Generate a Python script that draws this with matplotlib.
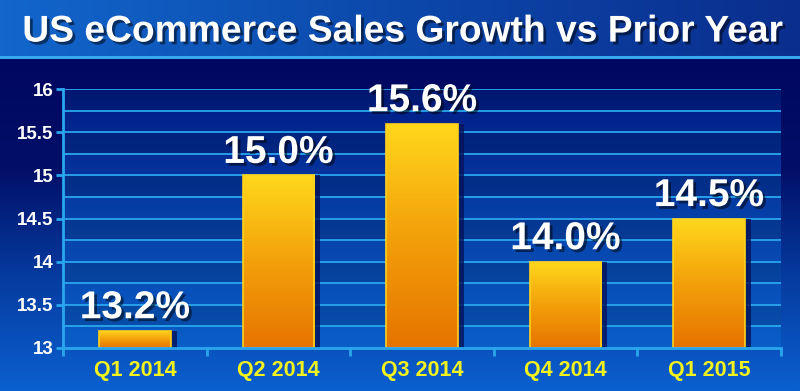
import numpy as np
import matplotlib
matplotlib.use("Agg")
import matplotlib.pyplot as plt
import matplotlib.patheffects as pe
from matplotlib.colors import LinearSegmentedColormap

quarters = ["Q1 2014", "Q2 2014", "Q3 2014", "Q4 2014", "Q1 2015"]
growth = [13.2, 15.0, 15.6, 14.0, 14.5]
labels = ["13.2%", "15.0%", "15.6%", "14.0%", "14.5%"]
y_ticks = [13, 13.5, 14, 14.5, 15, 15.5, 16]
y_tick_labels = ["13", "13.5", "14", "14.5", "15", "15.5", "16"]

plt.rcParams["font.family"] = ["Liberation Sans", "DejaVu Sans"]
plt.rcParams["font.weight"] = "bold"

fig = plt.figure(figsize=(8, 3.91), dpi=100)
shadow = [pe.withSimplePatchShadow(offset=(2, -2), shadow_rgbFace="black", alpha=0.5)]

# background: header band + dark body gradient
bg = fig.add_axes([0, 0, 1, 1], zorder=-10)
bg.set_axis_off()
bg.set_xlim(0, 1)
bg.set_ylim(0, 1)
body = LinearSegmentedColormap.from_list("body", ["#0b60d0", "#063ca0", "#020f68", "#000760"])
bg.imshow(np.linspace(0, 1, 256).reshape(-1, 1), cmap=body, aspect="auto",
          extent=(0, 1, 0, 0.855), origin="lower")
head = LinearSegmentedColormap.from_list("head", ["#1266cc", "#0c48aa", "#0a2e8e"])
bg.imshow(np.linspace(0, 1, 256).reshape(1, -1), cmap=head, aspect="auto",
          extent=(0, 1, 0.855, 1), origin="lower")
bg.axhline(0.853, color="#36a6ee", lw=2.2)
fig.text(0.504, 0.918, "US eCommerce Sales Growth vs Prior Year", color="white",
         fontsize=26.8, fontweight="bold", ha="center", va="center",
         path_effects=shadow)

ax = fig.add_axes([0.079, 0.110, 0.897, 0.662])
ax.set_xlim(-0.5, len(quarters) - 0.5)
ax.set_ylim(13, 16)
ax.patch.set_alpha(0)

plot_cmap = LinearSegmentedColormap.from_list("plot", ["#0a5ec8", "#0640a8", "#001c84"])
ax.imshow(np.linspace(0, 1, 256).reshape(-1, 1), cmap=plot_cmap, aspect="auto",
          extent=(-0.5, len(quarters) - 0.5, 13, 16), origin="lower", zorder=0)
for i, y0 in enumerate(np.arange(13, 16, 0.25)):
    if i % 2 == 1:
        ax.axhspan(y0, y0 + 0.25, color="black", alpha=0.13, lw=0, zorder=0.5)
for y in np.arange(13.25, 16.01, 0.25):
    ax.axhline(y, color="#2aa6ee", lw=1.3, zorder=1)

x = np.arange(len(quarters))
bar_cmap = LinearSegmentedColormap.from_list("bar", ["#e67300", "#f3a00a", "#ffd81c"])
# bar shadows
ax.bar(x + 0.04, np.array(growth) - 13, width=0.5, bottom=13, color="#03125a",
       alpha=0.8, zorder=2)
bars = ax.bar(x, np.array(growth) - 13, width=0.5, bottom=13, color="none",
              edgecolor="#ffd21a", lw=1.2, zorder=4)
for b in bars:
    x0, w, h = b.get_x(), b.get_width(), b.get_height()
    im = ax.imshow(np.linspace(0, 1, 256).reshape(-1, 1), cmap=bar_cmap, aspect="auto",
                   extent=(x0, x0 + w, 13, 13 + h), origin="lower", zorder=3)
    im.set_clip_path(b)

for xi, v, lab in zip(x, growth, labels):
    ax.annotate(lab, (xi, v), xytext=(0, 9), textcoords="offset points",
                ha="center", va="baseline", color="white", fontsize=28,
                fontweight="bold", zorder=5, path_effects=shadow)

for s in ["top", "right"]:
    ax.spines[s].set_visible(False)
for s in ["left", "bottom"]:
    ax.spines[s].set_color("#2aa6ee")
    ax.spines[s].set_linewidth(2)
    ax.spines[s].set_zorder(6)

ax.set_yticks(y_ticks)
ax.set_yticklabels(y_tick_labels, color="white", fontsize=13.5, fontweight="bold")
ax.tick_params(axis="y", direction="out", length=5, width=2, color="#2aa6ee", pad=2)
ax.set_xticks(np.arange(-0.5, len(quarters), 1.0))
ax.set_xticklabels([])
ax.tick_params(axis="x", which="major", direction="out", length=6, width=2, color="#2aa6ee")
ax.set_xticks(x, minor=True)
ax.set_xticklabels(quarters, minor=True, color="#f2f21e", fontsize=15.5, fontweight="bold")
ax.tick_params(axis="x", which="minor", length=0, pad=9)

fig.savefig("out.png", dpi=100)
